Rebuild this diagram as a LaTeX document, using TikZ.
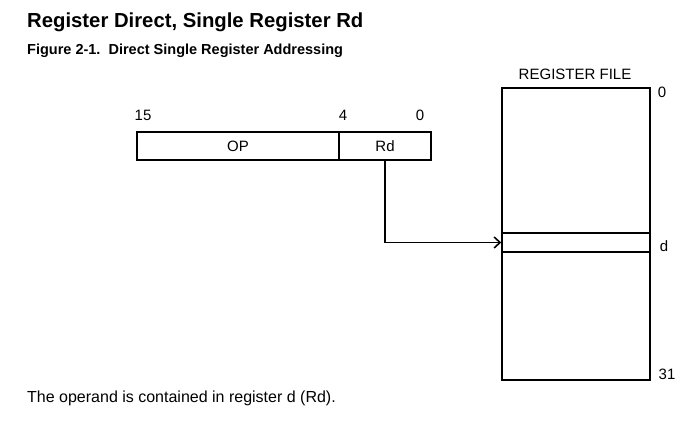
\documentclass[tikz,border=0pt]{standalone}
\usepackage{fontspec}
\setmainfont{Liberation Sans}
\usetikzlibrary{arrows.meta}

\tikzset{
  field/.style={draw,line width=2pt,minimum height=28pt,inner sep=0pt,font=\fontsize{15}{17}\selectfont},
  regbox/.style={draw,line width=2pt,minimum width=148pt,inner sep=0pt},
  lbl/.style={font=\fontsize{15}{17}\selectfont,inner sep=0pt}
}

\begin{document}
\begin{tikzpicture}[x=1pt,y=-1pt]
  \useasboundingbox (0,0) rectangle (700,430);
  \node[anchor=base west,inner sep=0pt,font=\fontsize{20.3}{23}\selectfont\bfseries] (title) at (27,28) {Register Direct, Single Register Rd};
  \node[anchor=base west,inner sep=0pt,font=\fontsize{14.5}{17}\selectfont\bfseries] (caption) at (27,55) {Figure 2-1.\ \ Direct Single Register Addressing};

  % instruction word
  \draw(238,146) node[field,minimum width=202pt] (OP) {OP};
  \draw(385,146) node[field,minimum width=92pt] (Rd) {Rd};
  \draw(143,115) node[lbl] (b15) {15};
  \draw(343,115) node[lbl] (b4) {4};
  \draw(420,115) node[lbl] (b0) {0};

  % register file
  \draw(576,234) node[regbox,minimum height=292pt] (RF) {};
  \draw(576,242.5) node[regbox,minimum height=19pt,line width=1.5pt] (slot) {};
  \draw(575,74) node[lbl] (rftitle) {REGISTER FILE};
  \draw(662,92) node[lbl] (r0) {0};
  \draw(664,246) node[lbl] (rd) {d};
  \draw(667,374) node[lbl] (r31) {31};

  \draw[line width=1.6pt,-{Straight Barb[length=6pt,width=11pt]}] (Rd.south) |- (slot.west);

  \node[anchor=base west,inner sep=0pt,font=\fontsize{16}{18}\selectfont] (note) at (27,402) {The operand is contained in register d (Rd).};
\end{tikzpicture}
\end{document}
